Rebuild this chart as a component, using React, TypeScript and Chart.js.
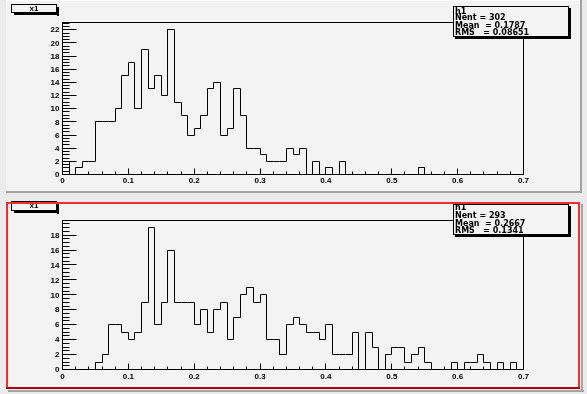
import React, { useEffect, useRef } from "react";
import { Chart, registerables } from "chart.js";

Chart.register(...registerables);

// ---------- data ----------
const padTitle = "x1";
const xMin = 0;
const xMax = 0.7;
const nBins = 70;

// counts per bin (bin width 0.01, from 0 to 0.7)
const topCounts = [
  2, 0, 1, 2, 2, 8, 8, 8, 10, 15,
  17, 10, 19, 13, 15, 12, 22, 11, 9, 6,
  7, 9, 13, 14, 6, 7, 13, 9, 4, 4,
  3, 2, 2, 2, 4, 3, 4, 0, 2, 0,
  1, 0, 2, 0, 0, 0, 0, 0, 0, 0,
  0, 0, 0, 0, 1, 0, 0, 0, 0, 0,
  0, 0, 0, 0, 0, 0, 0, 0, 0, 0,
];
const bottomCounts = [
  0, 0, 0, 0, 0, 1, 2, 6, 6, 5,
  4, 5, 9, 19, 6, 9, 16, 9, 9, 9,
  6, 8, 5, 8, 9, 4, 7, 10, 11, 9,
  10, 4, 4, 2, 6, 7, 6, 5, 5, 4,
  6, 2, 2, 2, 5, 0, 5, 3, 0, 2,
  3, 3, 1, 2, 3, 1, 0, 0, 0, 1,
  0, 1, 1, 2, 1, 0, 1, 0, 1, 0,
];

const xTickValues = [0, 0.1, 0.2, 0.3, 0.4, 0.5, 0.6, 0.7];
const xTickLabels = ["0", "0.1", "0.2", "0.3", "0.4", "0.5", "0.6", "0.7"];
const topYTickValues = [0, 2, 4, 6, 8, 10, 12, 14, 16, 18, 20, 22];
const bottomYTickValues = [0, 2, 4, 6, 8, 10, 12, 14, 16, 18];
const topYMax = 23.1;
const bottomYMax = 19.95;

const topStats = ["h1", "Nent = 302", "Mean  = 0.1787", "RMS   = 0.08651"];
const bottomStats = ["h1", "Nent = 293", "Mean  = 0.2667", "RMS   = 0.1341"];

// ---------- styles ----------
const PAGE_BG = "#ebebeb";
const PAD_BG = "#f3f3f3";
const GRAY = "#a4a4a4";
const RED = "#f03030";
const DARK_RED = "#b00000";
const LABEL_FONT = "bold 8px 'Liberation Sans', Arial, sans-serif";
const STATS_FONT = "bold 8px 'DejaVu Sans', sans-serif";
const W = 587;

type PadCfg = {
  which: "top" | "bottom";
  counts: number[];
  yTicks: number[];
  yMax: number;
  stats: string[];
  height: number;
  padding: { left: number; right: number; top: number; bottom: number };
  statsBox: { x0: number; y0: number; x1: number; y1: number; baselines: number[] };
  titleBox: { x0: number; y0: number; x1: number; y1: number; ty: number };
  xLabelOffset: number;
};

const topCfg: PadCfg = {
  which: "top",
  counts: topCounts,
  yTicks: topYTickValues,
  yMax: topYMax,
  stats: topStats,
  height: 196,
  padding: { left: 62.5, right: W - 523.5, top: 22.5, bottom: 196 - 174.5 },
  statsBox: { x0: 453.5, y0: 6.5, x1: 568.5, y1: 36.5, baselines: [13.5, 20, 27.5, 35.2] },
  titleBox: { x0: 11.5, y0: 4.5, x1: 56.5, y1: 12.5, ty: 9 },
  xLabelOffset: 2,
};

const bottomCfg: PadCfg = {
  which: "bottom",
  counts: bottomCounts,
  yTicks: bottomYTickValues,
  yMax: bottomYMax,
  stats: bottomStats,
  height: 198,
  padding: { left: 62.5, right: W - 523.5, top: 220.5 - 196, bottom: 198 - (369.5 - 196) },
  statsBox: { x0: 453.5, y0: 8.5, x1: 568.5, y1: 38.5, baselines: [14, 22, 29.7, 37.2] },
  titleBox: { x0: 11.5, y0: 5.5, x1: 56.5, y1: 14.5, ty: 10 },
  xLabelOffset: 3.5,
};

function snap(v: number) {
  return Math.floor(v) + 0.5;
}

function makePlugin(cfg: PadCfg) {
  return {
    id: "rootPad_" + cfg.which,
    afterDatasetsUpdate(chart: any) {
      chart.getSortedVisibleDatasetMetas().forEach((meta: any) => {
        meta.data.forEach((pt: any) => {
          pt.x = snap(pt.x);
          pt.y = snap(pt.y);
        });
      });
    },
    beforeDraw(chart: any) {
      const ctx = chart.ctx as CanvasRenderingContext2D;
      const H = cfg.height;
      ctx.save();
      ctx.fillStyle = PAGE_BG;
      ctx.fillRect(0, 0, W, H);
      if (cfg.which === "top") {
        ctx.fillStyle = PAD_BG;
        ctx.fillRect(6, 0, 574, 191);
        ctx.fillStyle = "#ffffff";
        ctx.fillRect(6, 0, 574, 1);
        ctx.fillStyle = GRAY;
        ctx.fillRect(6, 191, 576, 2);
        ctx.fillRect(580, 0, 2, 193);
      } else {
        ctx.fillStyle = PAD_BG;
        ctx.fillRect(6, 6, 574, 187);
        ctx.fillStyle = GRAY;
        ctx.fillRect(8, 194, 576, 2);
        ctx.fillRect(581, 8, 2, 188);
      }
      ctx.restore();
    },
    afterDraw(chart: any) {
      const ctx = chart.ctx as CanvasRenderingContext2D;
      const { left, right, top, bottom } = chart.chartArea;
      const xs = chart.scales.x;
      const ys = chart.scales.y;
      ctx.save();
      ctx.strokeStyle = "#000";
      ctx.fillStyle = "#000";
      ctx.lineWidth = 1;

      const L = snap(left), R = snap(right), T = snap(top), B = snap(bottom);
      // frame
      ctx.strokeRect(L, T, R - L, B - T);

      // Y ticks
      const yMajorLen = 14;
      const yMinorStep = 0.5;
      ctx.beginPath();
      for (let v = 0; v <= cfg.yMax + 1e-9; v += yMinorStep) {
        const py = snap(ys.getPixelForValue(v));
        const isMajor = Math.abs(v / 2 - Math.round(v / 2)) < 1e-6;
        ctx.moveTo(L, py);
        ctx.lineTo(L + (isMajor ? yMajorLen : yMajorLen / 2), py);
      }
      // X ticks
      const xMinorStep = 0.02;
      for (let i = 0; i * xMinorStep <= xMax + 1e-9; i++) {
        const v = i * xMinorStep;
        const px = snap(xs.getPixelForValue(v));
        const isMajor = i % 5 === 0;
        ctx.moveTo(px, B);
        ctx.lineTo(px, B - (isMajor ? 6 : 3));
      }
      ctx.stroke();

      // labels
      ctx.font = LABEL_FONT;
      ctx.textAlign = "right";
      ctx.textBaseline = "middle";
      cfg.yTicks.forEach((v) => {
        ctx.fillText(String(v), L - 3, ys.getPixelForValue(v) + 0.5);
      });
      ctx.textAlign = "center";
      ctx.textBaseline = "top";
      xTickValues.forEach((v, i) => {
        ctx.fillText(xTickLabels[i], xs.getPixelForValue(v), B + cfg.xLabelOffset);
      });

      // title box
      const tb = cfg.titleBox;
      ctx.fillStyle = PAD_BG;
      ctx.fillRect(tb.x0, tb.y0, tb.x1 - tb.x0, tb.y1 - tb.y0);
      ctx.fillStyle = "#000";
      ctx.strokeRect(tb.x0, tb.y0, tb.x1 - tb.x0, tb.y1 - tb.y0);
      ctx.fillRect(tb.x1 + 0.5, tb.y0 + 2.5, 2, tb.y1 - tb.y0 + 1);
      ctx.fillRect(tb.x0 + 2.5, tb.y1 + 0.5, tb.x1 - tb.x0, 2);
      ctx.font = LABEL_FONT;
      ctx.textAlign = "center";
      ctx.textBaseline = "middle";
      ctx.fillText(padTitle, (tb.x0 + tb.x1) / 2, tb.ty);

      // stats box
      const sb = cfg.statsBox;
      ctx.fillStyle = PAD_BG;
      ctx.fillRect(sb.x0, sb.y0, sb.x1 - sb.x0, sb.y1 - sb.y0);
      ctx.fillStyle = "#000";
      ctx.strokeRect(sb.x0, sb.y0, sb.x1 - sb.x0, sb.y1 - sb.y0);
      ctx.fillRect(sb.x1 + 0.5, sb.y0 + 1.5, 2, sb.y1 - sb.y0 + 1);
      ctx.fillRect(sb.x0 + 1.5, sb.y1 + 0.5, sb.x1 - sb.x0 + 1, 2);
      ctx.font = STATS_FONT;
      ctx.textAlign = "left";
      ctx.textBaseline = "alphabetic";
      cfg.stats.forEach((s, i) => {
        ctx.fillText(s, sb.x0 + 1.5, sb.baselines[i]);
      });

      // red selection border for the bottom pad
      if (cfg.which === "bottom") {
        ctx.fillStyle = RED;
        ctx.fillRect(6, 6, 574, 2);
        ctx.fillRect(6, 6, 2, 187);
        ctx.fillRect(578, 6, 2, 187);
        ctx.fillStyle = DARK_RED;
        ctx.fillRect(6, 191, 574, 2);
      }
      ctx.restore();
    },
  };
}

function histPoints(counts: number[]) {
  const binW = (xMax - xMin) / nBins;
  const pts = counts.map((c, i) => ({ x: xMin + i * binW, y: c }));
  pts.push({ x: xMax, y: counts[counts.length - 1] });
  return pts;
}

function Pad({ cfg, topPx }: { cfg: PadCfg; topPx: number }) {
  const ref = useRef<HTMLCanvasElement | null>(null);
  useEffect(() => {
    if (!ref.current) return;
    const chart = new Chart(ref.current, {
      type: "line",
      data: {
        datasets: [
          {
            data: histPoints(cfg.counts),
            borderColor: "#000000",
            borderWidth: 1,
            pointRadius: 0,
            fill: false,
            stepped: "before",
            tension: 0,
          } as any,
        ],
      },
      options: {
        animation: false,
        responsive: false,
        devicePixelRatio: 1,
        layout: { padding: cfg.padding },
        plugins: { legend: { display: false }, tooltip: { enabled: false } },
        events: [],
        scales: {
          x: { type: "linear", min: xMin, max: xMax, display: false },
          y: { type: "linear", min: 0, max: cfg.yMax, display: false },
        },
      },
      plugins: [makePlugin(cfg) as any],
    });
    return () => chart.destroy();
  }, [cfg]);
  return (
    <canvas
      ref={ref}
      width={W}
      height={cfg.height}
      style={{ position: "absolute", left: 0, top: topPx, width: W, height: cfg.height, display: "block" }}
    />
  );
}

export default function App() {
  return (
    <div style={{ position: "absolute", left: 0, top: 0, width: W, height: 394, background: PAGE_BG }}>
      <Pad cfg={topCfg} topPx={0} />
      <Pad cfg={bottomCfg} topPx={196} />
    </div>
  );
}
